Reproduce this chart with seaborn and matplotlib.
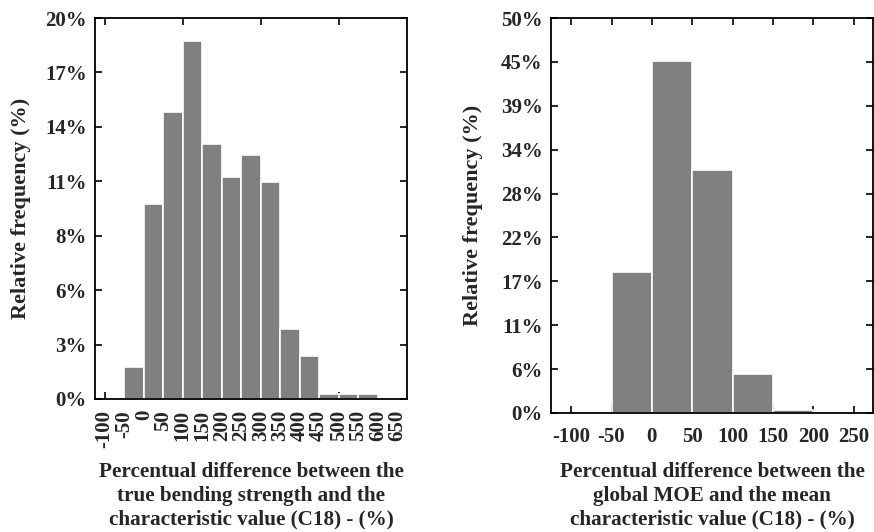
import numpy as np
import pandas as pd
import matplotlib
matplotlib.use("Agg")
import matplotlib.pyplot as plt
import seaborn as sns

# ---- data ----
left_edges = [-50, 0, 50, 100, 150, 200, 250, 300, 350, 400, 450, 500, 550, 600]
left_freq = [1.70, 10.24, 15.08, 18.80, 13.39, 11.67, 12.81, 11.37, 3.67, 2.27, 0.26, 0.26, 0.26]
left_xlabels = ["-100", "-50", "0", "50", "100", "150", "200", "250", "300",
                "350", "400", "450", "500", "550", "600", "650"]
left_ylabels = ["0%", "3%", "6%", "8%", "11%", "14%", "17%", "20%"]

right_edges = [-50, 0, 50, 100, 150, 200]
right_freq = [17.9, 44.6, 30.7, 4.9, 0.4]
right_xlabels = ["-100", "-50", "0", "50", "100", "150", "200", "250"]
right_ylabels = ["0%", "6%", "11%", "17%", "22%", "28%", "34%", "39%", "45%", "50%"]

left_title = "Percentual difference between the\ntrue bending strength and the\ncharacteristic value (C18) - (%)"
right_title = "Percentual difference between the\nglobal MOE and the mean\ncharacteristic value (C18) - (%)"
ylab = "Relative frequency (%)"

sns.set_style("white")
plt.rcParams["font.family"] = ["Liberation Serif", "DejaVu Serif"]
plt.rcParams["font.weight"] = "bold"

fig = plt.figure(figsize=(8.74, 5.32), dpi=100)
axL = fig.add_axes([95/874, 1-399/532, (407-95)/874, (399-18)/532])
axR = fig.add_axes([551/874, 1-413/532, (873-551)/874, (413-18)/532])

BAR = "#808080"
TS = 15
XL = 15.2
YL = 16

def draw(ax, edges, freq):
    e = [float(v) for v in edges]
    centers = [(a + b) / 2 for a, b in zip(e[:-1], e[1:])]
    df = pd.DataFrame({"x": centers, "w": freq})
    sns.histplot(data=df, x="x", weights="w", bins=e, stat="count",
                 color=BAR, alpha=1, edgecolor="white", linewidth=1.2, ax=ax)
    for s in ax.spines.values():
        s.set_visible(True)
        s.set_color("black")
        s.set_linewidth(1.3)
    ax.set_ylabel(ylab, fontsize=YL, fontweight="bold")
    ax.grid(False)

# left
draw(axL, left_edges, left_freq)
axL.set_xlim(-125, 675)
axL.set_ylim(0, 20)
lpos = np.arange(-100, 651, 50)
axL.xaxis.remove_overlapping_locs = False
axL.set_xticks(lpos)
axL.set_xticklabels(left_xlabels, rotation=90, fontsize=TS, fontweight="bold")
axL.set_xticks([-100, 100, 300, 500], minor=True)
axL.tick_params(axis="x", which="major", length=0, pad=8, bottom=True, top=False)
axL.tick_params(axis="x", which="minor", length=5, width=1.2, direction="in",
                bottom=True, top=True, color="black")
axL.set_yticks(np.linspace(0, 20, len(left_ylabels)))
axL.set_yticklabels(left_ylabels, fontsize=TS, fontweight="bold")
axL.tick_params(axis="y", length=5, width=1.2, direction="in", left=True,
                right=True, color="black", pad=6)
axL.set_xlabel(left_title, fontsize=XL, fontweight="bold", labelpad=10,
               linespacing=1.24)
axL.yaxis.set_label_coords(-0.205, 0.5)

# right
draw(axR, right_edges, right_freq)
axR.set_xlim(-125, 274)
axR.set_ylim(0, 50)
axR.set_xticks(np.arange(-100, 251, 50))
axR.set_xticklabels(right_xlabels, fontsize=TS, fontweight="bold")
axR.tick_params(axis="x", length=5, width=1.2, direction="in", bottom=True,
                top=True, color="black", pad=10)
axR.set_yticks(np.linspace(0, 50, len(right_ylabels)))
axR.set_yticklabels(right_ylabels, fontsize=TS, fontweight="bold")
axR.tick_params(axis="y", length=5, width=1.2, direction="in", left=True,
                right=True, color="black", pad=6)
axR.set_xlabel(right_title, fontsize=XL, fontweight="bold", labelpad=11,
               linespacing=1.24)
axR.yaxis.set_label_coords(-0.21, 0.5)

fig.savefig("out.png", dpi=100)
